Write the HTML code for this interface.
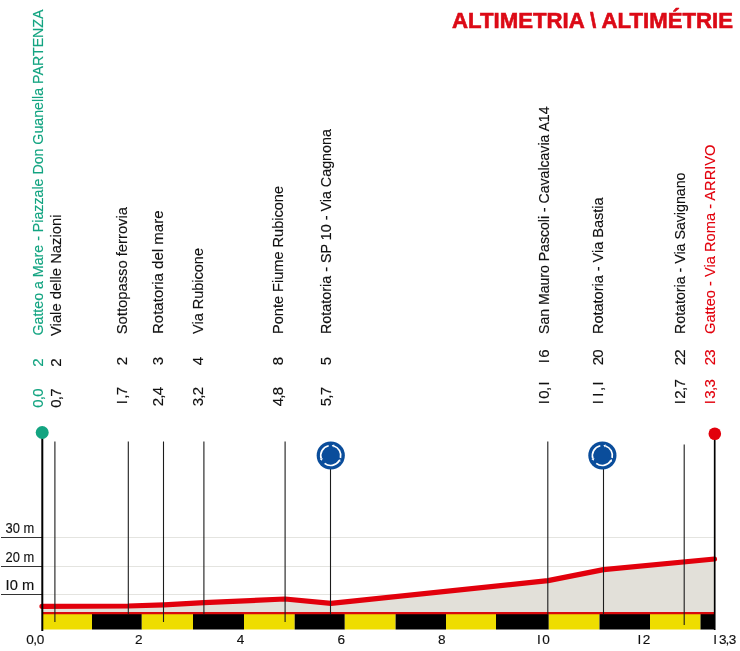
<!DOCTYPE html><html><head><meta charset="utf-8"><style>html,body{margin:0;padding:0;background:#fff;width:740px;height:651px;overflow:hidden}</style></head><body><svg width="740" height="651" viewBox="0 0 740 651" style="display:block;will-change:transform">
<rect width="740" height="651" fill="#fff"/>
<text x="733" y="28" text-anchor="end" font-family='"Liberation Sans", sans-serif' font-weight="bold" font-size="22" fill="#dc0a16" stroke="#dc0a16" stroke-width="0.6" textLength="281" lengthAdjust="spacingAndGlyphs">ALTIMETRIA \ ALTIMÉTRIE</text>
<text transform="translate(43.4,335.5) rotate(-90)" font-family='"Liberation Sans", sans-serif' font-size="15.5" fill="#13a481" stroke="#13a481" stroke-width="0.15" textLength="326.0" lengthAdjust="spacingAndGlyphs">Gatteo a Mare - Piazzale Don Guanella PARTENZA</text>
<text transform="translate(43.4,366.5) rotate(-90)" font-family='"Liberation Sans", sans-serif' font-size="15" fill="#13a481" stroke="#13a481" stroke-width="0.15" text-anchor="middle" x="3.80">2</text>
<text transform="translate(43.4,407.5) rotate(-90)" font-family='"Liberation Sans", sans-serif' font-size="15" fill="#13a481" stroke="#13a481" stroke-width="0.15" text-anchor="middle" x="3.80 9.40 15.00">0,0</text>
<text transform="translate(61.2,336) rotate(-90)" font-family='"Liberation Sans", sans-serif' font-size="15.5" fill="#111" stroke="#111" stroke-width="0.15" textLength="121.5" lengthAdjust="spacingAndGlyphs">Viale delle Nazioni</text>
<text transform="translate(61.2,366.5) rotate(-90)" font-family='"Liberation Sans", sans-serif' font-size="15" fill="#111" stroke="#111" stroke-width="0.15" text-anchor="middle" x="3.80">2</text>
<text transform="translate(61.2,407.5) rotate(-90)" font-family='"Liberation Sans", sans-serif' font-size="15" fill="#111" stroke="#111" stroke-width="0.15" text-anchor="middle" x="3.80 9.40 15.00">0,7</text>
<text transform="translate(126.8,334.3) rotate(-90)" font-family='"Liberation Sans", sans-serif' font-size="15.5" fill="#111" stroke="#111" stroke-width="0.15" textLength="127.30000000000001" lengthAdjust="spacingAndGlyphs">Sottopasso ferrovia</text>
<text transform="translate(126.8,365) rotate(-90)" font-family='"Liberation Sans", sans-serif' font-size="15" fill="#111" stroke="#111" stroke-width="0.15" text-anchor="middle" x="3.80">2</text>
<text transform="translate(126.8,406) rotate(-90)" font-family='"Liberation Sans", sans-serif' font-size="15" fill="#111" stroke="#111" stroke-width="0.15" text-anchor="middle" x="3.80 9.40 15.00">I,7</text>
<text transform="translate(162.6,334) rotate(-90)" font-family='"Liberation Sans", sans-serif' font-size="15.5" fill="#111" stroke="#111" stroke-width="0.15" textLength="123.5" lengthAdjust="spacingAndGlyphs">Rotatoria del mare</text>
<text transform="translate(162.6,365) rotate(-90)" font-family='"Liberation Sans", sans-serif' font-size="15" fill="#111" stroke="#111" stroke-width="0.15" text-anchor="middle" x="3.80">3</text>
<text transform="translate(162.6,406) rotate(-90)" font-family='"Liberation Sans", sans-serif' font-size="15" fill="#111" stroke="#111" stroke-width="0.15" text-anchor="middle" x="3.80 9.40 15.00">2,4</text>
<text transform="translate(203.0,334) rotate(-90)" font-family='"Liberation Sans", sans-serif' font-size="15.5" fill="#111" stroke="#111" stroke-width="0.15" textLength="86" lengthAdjust="spacingAndGlyphs">Via Rubicone</text>
<text transform="translate(203.0,365) rotate(-90)" font-family='"Liberation Sans", sans-serif' font-size="15" fill="#111" stroke="#111" stroke-width="0.15" text-anchor="middle" x="3.80">4</text>
<text transform="translate(203.0,406) rotate(-90)" font-family='"Liberation Sans", sans-serif' font-size="15" fill="#111" stroke="#111" stroke-width="0.15" text-anchor="middle" x="3.80 9.40 15.00">3,2</text>
<text transform="translate(283.4,334) rotate(-90)" font-family='"Liberation Sans", sans-serif' font-size="15.5" fill="#111" stroke="#111" stroke-width="0.15" textLength="148" lengthAdjust="spacingAndGlyphs">Ponte Fiume Rubicone</text>
<text transform="translate(283.4,365) rotate(-90)" font-family='"Liberation Sans", sans-serif' font-size="15" fill="#111" stroke="#111" stroke-width="0.15" text-anchor="middle" x="3.80">8</text>
<text transform="translate(283.4,406) rotate(-90)" font-family='"Liberation Sans", sans-serif' font-size="15" fill="#111" stroke="#111" stroke-width="0.15" text-anchor="middle" x="3.80 9.40 15.00">4,8</text>
<text transform="translate(331.4,334) rotate(-90)" font-family='"Liberation Sans", sans-serif' font-size="15.5" fill="#111" stroke="#111" stroke-width="0.15" textLength="205" lengthAdjust="spacingAndGlyphs">Rotatoria - SP 10 - Via Cagnona</text>
<text transform="translate(331.4,365) rotate(-90)" font-family='"Liberation Sans", sans-serif' font-size="15" fill="#111" stroke="#111" stroke-width="0.15" text-anchor="middle" x="3.80">5</text>
<text transform="translate(331.4,406) rotate(-90)" font-family='"Liberation Sans", sans-serif' font-size="15" fill="#111" stroke="#111" stroke-width="0.15" text-anchor="middle" x="3.80 9.40 15.00">5,7</text>
<text transform="translate(548.7,334) rotate(-90)" font-family='"Liberation Sans", sans-serif' font-size="15.5" fill="#111" stroke="#111" stroke-width="0.15" textLength="227.5" lengthAdjust="spacingAndGlyphs">San Mauro Pascoli - Cavalcavia A14</text>
<text transform="translate(548.7,365) rotate(-90)" font-family='"Liberation Sans", sans-serif' font-size="15" fill="#111" stroke="#111" stroke-width="0.15" text-anchor="middle" x="3.80 11.40">I6</text>
<text transform="translate(548.7,406) rotate(-90)" font-family='"Liberation Sans", sans-serif' font-size="15" fill="#111" stroke="#111" stroke-width="0.15" text-anchor="middle" x="3.80 11.40 17.00 22.60">I0,I</text>
<text transform="translate(603.3,334) rotate(-90)" font-family='"Liberation Sans", sans-serif' font-size="15.5" fill="#111" stroke="#111" stroke-width="0.15" textLength="136.5" lengthAdjust="spacingAndGlyphs">Rotatoria - Via Bastia</text>
<text transform="translate(603.3,365) rotate(-90)" font-family='"Liberation Sans", sans-serif' font-size="15" fill="#111" stroke="#111" stroke-width="0.15" text-anchor="middle" x="3.80 11.40">20</text>
<text transform="translate(603.3,406) rotate(-90)" font-family='"Liberation Sans", sans-serif' font-size="15" fill="#111" stroke="#111" stroke-width="0.15" text-anchor="middle" x="3.80 11.40 17.00 22.60">II,I</text>
<text transform="translate(684.5,334) rotate(-90)" font-family='"Liberation Sans", sans-serif' font-size="15.5" fill="#111" stroke="#111" stroke-width="0.15" textLength="161.5" lengthAdjust="spacingAndGlyphs">Rotatoria - Via Savignano</text>
<text transform="translate(684.5,365) rotate(-90)" font-family='"Liberation Sans", sans-serif' font-size="15" fill="#111" stroke="#111" stroke-width="0.15" text-anchor="middle" x="3.80 11.40">22</text>
<text transform="translate(684.5,406) rotate(-90)" font-family='"Liberation Sans", sans-serif' font-size="15" fill="#111" stroke="#111" stroke-width="0.15" text-anchor="middle" x="3.80 11.40 17.00 22.60">I2,7</text>
<text transform="translate(714.9,334) rotate(-90)" font-family='"Liberation Sans", sans-serif' font-size="15.5" fill="#e2000c" stroke="#e2000c" stroke-width="0.15" textLength="189.5" lengthAdjust="spacingAndGlyphs">Gatteo - Via Roma - ARRIVO</text>
<text transform="translate(714.9,365) rotate(-90)" font-family='"Liberation Sans", sans-serif' font-size="15" fill="#e2000c" stroke="#e2000c" stroke-width="0.15" text-anchor="middle" x="3.80 11.40">23</text>
<text transform="translate(714.9,406) rotate(-90)" font-family='"Liberation Sans", sans-serif' font-size="15" fill="#e2000c" stroke="#e2000c" stroke-width="0.15" text-anchor="middle" x="3.80 11.40 17.00 22.60">I3,3</text>
<line x1="42" y1="537.5" x2="714" y2="537.5" stroke="#e4e4e0" stroke-width="1"/>
<line x1="1" y1="537.5" x2="42" y2="537.5" stroke="#333" stroke-width="1.2"/>
<text x="5.6" y="533.2" font-family='"Liberation Sans", sans-serif' font-size="14" fill="#111" stroke="#111" stroke-width="0.15" textLength="28.6" lengthAdjust="spacingAndGlyphs">30 m</text>
<line x1="42" y1="566.5" x2="714" y2="566.5" stroke="#e4e4e0" stroke-width="1"/>
<line x1="1" y1="566.5" x2="42" y2="566.5" stroke="#333" stroke-width="1.2"/>
<text x="5.6" y="562.2" font-family='"Liberation Sans", sans-serif' font-size="14" fill="#111" stroke="#111" stroke-width="0.15" textLength="28.6" lengthAdjust="spacingAndGlyphs">20 m</text>
<line x1="42" y1="594.5" x2="714" y2="594.5" stroke="#e4e4e0" stroke-width="1"/>
<line x1="1" y1="594.5" x2="42" y2="594.5" stroke="#333" stroke-width="1.2"/>
<text x="5.6" y="590.2" font-family='"Liberation Sans", sans-serif' font-size="14" fill="#111" stroke="#111" stroke-width="0.15" textLength="28.6" lengthAdjust="spacingAndGlyphs">I0 m</text>
<polygon points="42,606.3 128,606 164,604.8 204,602.6 285,599 331,603.3 548,580.6 603.5,569.6 714.5,559 714.5,613 42,613" fill="#e2e0d9"/>
<rect x="42" y="614" width="50.00" height="15.5" fill="#eedd00"/>
<rect x="92" y="614" width="49.80" height="15.5" fill="#000"/>
<rect x="141.8" y="614" width="51.20" height="15.5" fill="#eedd00"/>
<rect x="193" y="614" width="51.00" height="15.5" fill="#000"/>
<rect x="244" y="614" width="50.70" height="15.5" fill="#eedd00"/>
<rect x="294.7" y="614" width="50.10" height="15.5" fill="#000"/>
<rect x="344.8" y="614" width="50.80" height="15.5" fill="#eedd00"/>
<rect x="395.6" y="614" width="50.40" height="15.5" fill="#000"/>
<rect x="446" y="614" width="50.00" height="15.5" fill="#eedd00"/>
<rect x="496" y="614" width="52.80" height="15.5" fill="#000"/>
<rect x="548.8" y="614" width="50.70" height="15.5" fill="#eedd00"/>
<rect x="599.5" y="614" width="50.50" height="15.5" fill="#000"/>
<rect x="650" y="614" width="50.50" height="15.5" fill="#eedd00"/>
<rect x="700.5" y="614" width="14.00" height="15.5" fill="#000"/>
<line x1="42" y1="613.2" x2="714.5" y2="613.2" stroke="#d80a0c" stroke-width="2.2"/>
<polyline points="42,606.3 128,606 164,604.8 204,602.6 285,599 331,603.3 548,580.6 603.5,569.6 714.5,559" fill="none" stroke="#e2000c" stroke-width="5.2" stroke-linejoin="round" stroke-linecap="round"/>
<line x1="54.9" y1="441.5" x2="54.9" y2="622" stroke="#1c1c1c" stroke-width="1.1"/>
<line x1="128.3" y1="441.5" x2="128.3" y2="614" stroke="#1c1c1c" stroke-width="1.1"/>
<line x1="163.5" y1="441.5" x2="163.5" y2="622" stroke="#1c1c1c" stroke-width="1.1"/>
<line x1="203.9" y1="441.5" x2="203.9" y2="614" stroke="#1c1c1c" stroke-width="1.1"/>
<line x1="285.1" y1="441.5" x2="285.1" y2="622" stroke="#1c1c1c" stroke-width="1.1"/>
<line x1="330.5" y1="469" x2="330.5" y2="614" stroke="#1c1c1c" stroke-width="1.1"/>
<line x1="547.8" y1="441.5" x2="547.8" y2="614" stroke="#1c1c1c" stroke-width="1.1"/>
<line x1="603.5" y1="469" x2="603.5" y2="614" stroke="#1c1c1c" stroke-width="1.1"/>
<line x1="684.2" y1="444.5" x2="684.2" y2="625" stroke="#1c1c1c" stroke-width="1.1"/>
<line x1="42.3" y1="433" x2="42.3" y2="631" stroke="#000" stroke-width="2"/>
<line x1="714.7" y1="434" x2="714.7" y2="630" stroke="#000" stroke-width="1.7"/>
<circle cx="42.2" cy="432.5" r="6.5" fill="#13a481"/>
<circle cx="714.8" cy="433.8" r="6.3" fill="#e2000c"/>
<g transform="translate(330.75,455.5)">
<circle r="14.1" fill="#0a4d9b"/>
<path d="M-2.08,-9.78 A10.0,10.0 0 0 0 -9.51,3.09" fill="none" stroke="#fff" stroke-width="1.7"/>
<path d="M-8.83,5.18 L-11.03,3.58 L-7.99,2.60Z" fill="#fff"/>
<path d="M-6.16,7.88 A10.0,10.0 0 0 0 8.29,5.59" fill="none" stroke="#fff" stroke-width="1.7"/>
<path d="M9.52,3.77 L9.62,6.49 L6.96,4.70Z" fill="#fff"/>
<path d="M9.70,2.42 A10.0,10.0 0 0 0 3.09,-9.51" fill="none" stroke="#fff" stroke-width="1.7"/>
<path d="M1.00,-10.19 L3.58,-11.03 L2.60,-7.99Z" fill="#fff"/>
</g>
<g transform="translate(602.4,455.5)">
<circle r="14.1" fill="#0a4d9b"/>
<path d="M-2.08,-9.78 A10.0,10.0 0 0 0 -9.51,3.09" fill="none" stroke="#fff" stroke-width="1.7"/>
<path d="M-8.83,5.18 L-11.03,3.58 L-7.99,2.60Z" fill="#fff"/>
<path d="M-6.16,7.88 A10.0,10.0 0 0 0 8.29,5.59" fill="none" stroke="#fff" stroke-width="1.7"/>
<path d="M9.52,3.77 L9.62,6.49 L6.96,4.70Z" fill="#fff"/>
<path d="M9.70,2.42 A10.0,10.0 0 0 0 3.09,-9.51" fill="none" stroke="#fff" stroke-width="1.7"/>
<path d="M1.00,-10.19 L3.58,-11.03 L2.60,-7.99Z" fill="#fff"/>
</g>
<text x="30 35.1 40.5" y="644.4" text-anchor="middle" font-family='"Liberation Sans", sans-serif' font-size="13.6" fill="#111" stroke="#111" stroke-width="0.15">0,0</text>
<text x="138.8" y="644.4" text-anchor="middle" font-family='"Liberation Sans", sans-serif' font-size="13.6" fill="#111" stroke="#111" stroke-width="0.15">2</text>
<text x="240.6" y="644.4" text-anchor="middle" font-family='"Liberation Sans", sans-serif' font-size="13.6" fill="#111" stroke="#111" stroke-width="0.15">4</text>
<text x="341.3" y="644.4" text-anchor="middle" font-family='"Liberation Sans", sans-serif' font-size="13.6" fill="#111" stroke="#111" stroke-width="0.15">6</text>
<text x="441.9" y="644.4" text-anchor="middle" font-family='"Liberation Sans", sans-serif' font-size="13.6" fill="#111" stroke="#111" stroke-width="0.15">8</text>
<text x="538.9 546" y="644.4" text-anchor="middle" font-family='"Liberation Sans", sans-serif' font-size="13.6" fill="#111" stroke="#111" stroke-width="0.15">I0</text>
<text x="639.3 646.5" y="644.4" text-anchor="middle" font-family='"Liberation Sans", sans-serif' font-size="13.6" fill="#111" stroke="#111" stroke-width="0.15">I2</text>
<text x="715.2 722.9 727.4 732.6" y="644.4" text-anchor="middle" font-family='"Liberation Sans", sans-serif' font-size="13.6" fill="#111" stroke="#111" stroke-width="0.15">I3,3</text>
</svg></body></html>
